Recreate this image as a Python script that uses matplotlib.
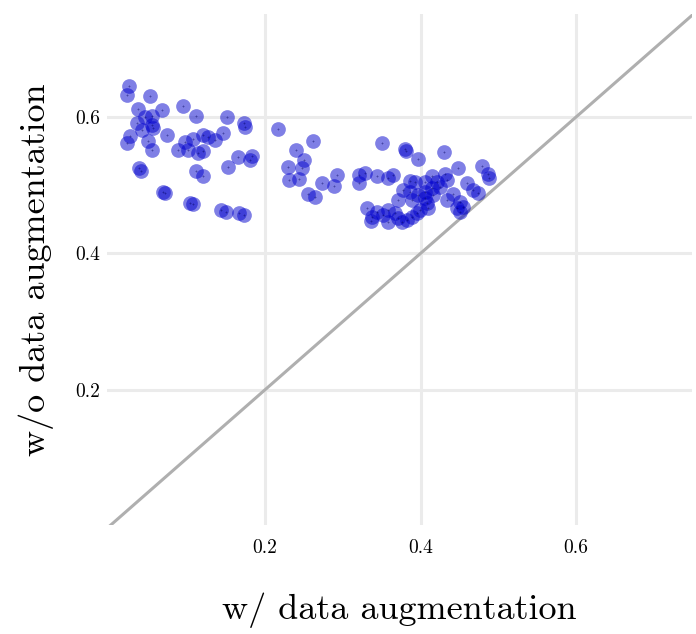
import matplotlib
matplotlib.use("Agg")
import matplotlib.pyplot as plt

plt.rcParams['font.family'] = ['cmr10', 'DejaVu Serif']
plt.rcParams['axes.formatter.use_mathtext'] = True

w_aug = [0.025, 0.0225, 0.052, 0.037, 0.068, 0.0945, 0.0457, 0.0547, 0.0354, 0.0418,
         0.0547, 0.056, 0.111, 0.151, 0.173, 0.174, 0.0264, 0.0225, 0.0495, 0.0547,
         0.074, 0.088, 0.097, 0.101, 0.107, 0.120, 0.127, 0.136, 0.146, 0.120,
         0.114, 0.165, 0.183, 0.181, 0.152, 0.038, 0.0405, 0.111, 0.120, 0.0714,
         0.0688, 0.1035, 0.107, 0.1434, 0.1498, 0.1666, 0.173, 0.2167, 0.2617, 0.2399,
         0.2502, 0.2296, 0.2476, 0.2309, 0.2437, 0.2733, 0.2926, 0.2887, 0.2553, 0.2643,
         0.3209, 0.3286, 0.3209, 0.3441, 0.3582, 0.3646, 0.3505, 0.3801, 0.3814, 0.3968,
         0.4302, 0.4482, 0.4791, 0.4868, 0.4881, 0.4315, 0.4341, 0.3865, 0.3929, 0.4058,
         0.4212, 0.4251, 0.4148, 0.4058, 0.3775, 0.3865, 0.4598, 0.4675, 0.4740, 0.4418,
         0.4341, 0.4508, 0.4469, 0.4547, 0.4508, 0.3711, 0.4058, 0.4084, 0.4096, 0.3994,
         0.3955, 0.3891, 0.3826, 0.3762, 0.3312, 0.3441, 0.3518, 0.3582, 0.3376, 0.3363,
         0.3968, 0.4161, 0.3672, 0.3711, 0.3891, 0.3582, 0.4148]
wo_aug = [0.645, 0.632, 0.631, 0.612, 0.610, 0.616, 0.600, 0.601, 0.591, 0.581,
          0.588, 0.584, 0.601, 0.600, 0.591, 0.585, 0.572, 0.562, 0.5648, 0.5516,
          0.5737, 0.5516, 0.5634, 0.5516, 0.5678, 0.5737, 0.5707, 0.5663, 0.5766, 0.5502,
          0.5473, 0.5414, 0.5429, 0.537, 0.5267, 0.5253, 0.5209, 0.5209, 0.5136, 0.4886,
          0.4901, 0.474, 0.4725, 0.4637, 0.4608, 0.4593, 0.4564, 0.5817, 0.5641, 0.5516,
          0.5370, 0.5267, 0.5253, 0.5077, 0.5092, 0.5033, 0.5150, 0.4989, 0.4872, 0.4828,
          0.5150, 0.5180, 0.5033, 0.5136, 0.5106, 0.5150, 0.5619, 0.5531, 0.5502, 0.5385,
          0.5487, 0.5253, 0.5282, 0.5165, 0.5106, 0.5165, 0.5077, 0.5062, 0.5048, 0.5048,
          0.5048, 0.4974, 0.4960, 0.4901, 0.4930, 0.4901, 0.5033, 0.4930, 0.4886, 0.4872,
          0.4784, 0.4755, 0.4667, 0.4681, 0.4608, 0.4784, 0.4813, 0.4740, 0.4667, 0.4637,
          0.4593, 0.4535, 0.4491, 0.4462, 0.4667, 0.4608, 0.4564, 0.4637, 0.4535, 0.4476,
          0.4857, 0.4857, 0.4593, 0.4520, 0.4784, 0.4462, 0.5136]

ticks = [0.2, 0.4, 0.6]
tick_labels = ["0.2", "0.4", "0.6"]
diag = [0.0, 0.75]

fig = plt.figure(figsize=(6.96, 6.34), dpi=100)
ax = fig.add_axes([0.1537, 0.172, 0.8406, 0.806])

ax.plot(diag, diag, color='#AFAFAF', lw=2.2, zorder=2, solid_capstyle='butt')
ax.scatter(w_aug, wo_aug, s=112, color='#0000CD', alpha=0.5, linewidths=0, zorder=3)
ax.scatter(w_aug, wo_aug, s=4, marker='+', color='#00005A', alpha=0.45, linewidths=0.6, zorder=4)

ax.set_xlim(-0.003, 0.749)
ax.set_ylim(0.002, 0.751)
ax.set_xticks(ticks)
ax.set_xticklabels(tick_labels)
ax.set_yticks(ticks)
ax.set_yticklabels(tick_labels)
ax.grid(True, color='#EBEBEB', lw=2.2, zorder=0)
ax.set_axisbelow(True)
for s in ax.spines.values():
    s.set_visible(False)
ax.tick_params(length=0, labelsize=14)
ax.tick_params(axis='x', pad=10)
ax.tick_params(axis='y', pad=5)

ax.set_xlabel("w/ data augmentation", fontsize=26, labelpad=26)
ax.set_ylabel("w/o data augmentation", fontsize=26, labelpad=15)

fig.savefig("out.png", dpi=100)
